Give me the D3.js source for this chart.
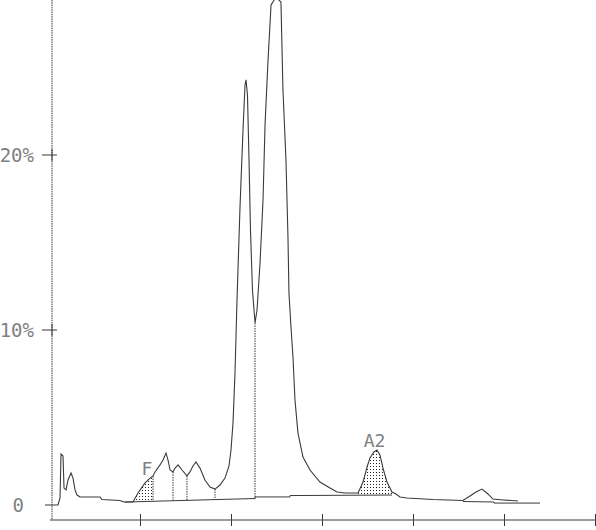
<!DOCTYPE html>
<html>
<head>
<meta charset="utf-8">
<script src="https://cdn.jsdelivr.net/npm/d3@7"></script>
<style>
  html, body { margin: 0; padding: 0; background: #fff; }
  svg { display: block; }
</style>
</head>
<body>
<svg id="chart" width="596" height="530"></svg>
<script>
// ---- data (time in minutes, absorbance in %) ----
const traceTime = [-0.044,0.099,0.121,0.132,0.154,0.165,0.187,0.209,0.242,0.264,0.286,0.308,0.341,0.560,0.582,0.780,0.824,0.923,0.978,1.055,1.110,1.143,1.165,1.220,1.253,1.286,1.308,1.330,1.363,1.385,1.418,1.462,1.516,1.549,1.582,1.615,1.659,1.714,1.769,1.824,1.879,1.934,1.978,2.000,2.022,2.044,2.066,2.099,2.132,2.154,2.165,2.181,2.198,2.214,2.236,2.264,2.286,2.319,2.352,2.374,2.407,2.440,2.495,2.549,2.571,2.604,2.626,2.637,2.659,2.681,2.703,2.736,2.791,2.868,2.978,3.088,3.165,3.253,3.396,3.451,3.495,3.527,3.571,3.604,3.637,3.670,3.714,3.769,3.813,3.857,3.934,4.220,4.549,4.626,4.692,4.758,4.824,4.879,4.989,5.154];
const traceValue = [0,0,0.40,2.91,2.80,0.97,0.86,1.43,1.83,1.54,0.86,0.57,0.46,0.46,0.31,0.26,0.17,0.17,0.69,1.26,1.54,1.66,1.89,2.29,2.57,2.97,2.57,2.00,1.89,2.11,2.29,2.00,1.66,1.89,2.23,2.46,2.11,1.43,1.03,0.91,1.14,1.54,2.23,3.14,4.69,7.54,11.71,17.03,21.43,24.00,24.29,23.43,19.71,15.71,12.29,10.40,11.14,13.83,17.43,21.71,25.43,28.57,29.03,28.74,23.71,19.71,15.31,12.11,10.17,8.46,6.00,4.11,2.74,2.00,1.31,0.97,0.74,0.69,0.69,1.31,2.17,2.69,3.03,3.14,2.86,2.11,1.31,0.74,0.63,0.46,0.40,0.31,0.26,0.51,0.74,0.91,0.63,0.34,0.29,0.23];

// integration baseline (null = gap)
const baseTime  = [0.835,2.264,2.264,2.648,2.648,3.769,null,4.549,4.890,4.890,5.396];
const baseValue = [0.17,0.37,0.46,0.46,0.54,0.57,null,0.20,0.17,0.11,0.11];

// peak separation drop lines
const dropTimes = [1.143,1.363,1.516,1.824,2.264];

// shaded (integrated) peaks
const shadedPeaks = [
  {name: "F",  start: 0.923, end: 1.143, labelTime: 1.077, labelValue: 1.71},
  {name: "A2", start: 3.396, end: 3.769, labelTime: 3.577, labelValue: 3.31}
];

const xTicks = [1,2,3,4,5,6];
const yTicks = [0,10,20];
const yTickLabels = ["0","10%","20%"];

// ---- drawing ----
const svg = d3.select("#chart");
const W = 596, H = 530;
const x = d3.scaleLinear().domain([0,6]).range([49,595]);
const y = d3.scaleLinear().domain([0,10]).range([505,330]);
const axisY = 520, axisX = 52;
const ink = "#3a3a3a";
const textInk = "#808080";
const font = "'DejaVu Sans Mono', 'Liberation Mono', monospace";

const defs = svg.append("defs");
const pat = defs.append("pattern").attr("id","stipple")
  .attr("patternUnits","userSpaceOnUse").attr("width",3).attr("height",3);
pat.append("rect").attr("x",1).attr("y",1).attr("width",1).attr("height",1).attr("fill","#222");

const trace = traceTime.map((t,i)=>({t, v: traceValue[i]}));
const base = baseTime.map((t,i)=> t===null ? null : ({t, v: baseValue[i]}));
const baseSolid = base.filter(d=>d);

function interp(pts, t) {
  for (let i=0;i<pts.length-1;i++) {
    const a=pts[i], b=pts[i+1];
    if (t>=a.t && t<=b.t) {
      if (b.t===a.t) return a.v;
      return a.v + (b.v-a.v)*(t-a.t)/(b.t-a.t);
    }
  }
  return pts[pts.length-1].v;
}

// shaded areas
const area = d3.area().x(d=>x(d.t)).y0(d=>y(d.b)).y1(d=>y(d.v));
shadedPeaks.forEach(p=>{
  const ts = [p.start, ...traceTime.filter(t=>t>p.start && t<p.end), p.end];
  const pts = ts.map(t=>({t, v: interp(trace,t), b: interp(baseSolid,t)}));
  svg.append("path").attr("d", area(pts)).attr("fill","url(#stipple)").attr("stroke","none");
  svg.append("text").text(p.name)
    .attr("x", x(p.labelTime)).attr("y", y(p.labelValue))
    .attr("text-anchor","middle").attr("font-family",font).attr("font-size",18)
    .attr("fill",textInk);
});

// baseline
svg.append("path")
  .attr("d", d3.line().defined(d=>d).x(d=>x(d.t)).y(d=>y(d.v))(base))
  .attr("fill","none").attr("stroke",ink).attr("stroke-width",1);

// drop lines
svg.selectAll("line.drop").data(dropTimes).join("line").attr("class","drop")
  .attr("x1",d=>x(d)).attr("x2",d=>x(d))
  .attr("y1",d=>y(interp(trace,d))).attr("y2",d=>y(interp(baseSolid,d)))
  .attr("stroke",ink).attr("stroke-width",1).attr("stroke-dasharray","1.5,1");

// trace
svg.append("path")
  .attr("d", d3.line().x(d=>x(d.t)).y(d=>y(d.v))(trace))
  .attr("fill","none").attr("stroke",ink).attr("stroke-width",1.1);

// x axis
const gx = svg.append("g").attr("transform",`translate(0,${axisY})`)
  .call(d3.axisBottom(x).tickValues(xTicks).tickSize(6).tickSizeOuter(0).tickFormat(""));
gx.select(".domain").attr("stroke",ink).attr("d",`M${x(0)+1},0H${W}`);
gx.selectAll(".tick line").attr("y1",-6).attr("y2",6).attr("stroke",ink);

// y axis
svg.append("line").attr("x1",axisX).attr("x2",axisX).attr("y1",0).attr("y2",axisY)
  .attr("stroke",ink).attr("stroke-width",1).attr("stroke-dasharray","1.5,0.8");
yTicks.forEach((v,i)=>{
  if (v>0) {
    svg.append("line").attr("x1",axisX-10).attr("x2",axisX+5)
      .attr("y1",y(v)).attr("y2",y(v)).attr("stroke",ink);
    svg.append("line").attr("x1",axisX).attr("x2",axisX)
      .attr("y1",y(v)-6).attr("y2",y(v)+6).attr("stroke",ink);
  }
  svg.append("text").text(yTickLabels[i])
    .attr("x", v===0 ? 24 : 34).attr("y", y(v)+7)
    .attr("text-anchor","end").attr("font-family",font).attr("font-size",19)
    .attr("fill",textInk);
});
</script>
</body>
</html>
